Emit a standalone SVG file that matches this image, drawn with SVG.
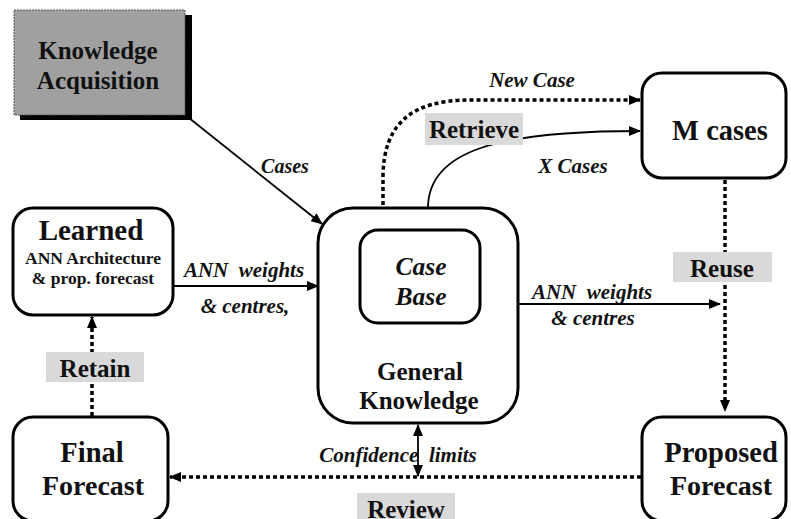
<svg xmlns="http://www.w3.org/2000/svg" width="791" height="519" viewBox="0 0 791 519">
<style>
.box{fill:#fff;stroke:#000;stroke-width:3}
.b{font-family:"Liberation Serif",serif;font-weight:bold;fill:#111;text-anchor:middle}
.bi{font-family:"Liberation Serif",serif;font-weight:bold;font-style:italic;fill:#111;text-anchor:middle;white-space:pre}
.solid{fill:none;stroke:#000;stroke-width:1.8}
.dot{fill:none;stroke:#000;stroke-width:3.5;stroke-dasharray:4 3}
.lab{fill:#d9d9d9}
</style>
<defs>
<marker id="ah" markerUnits="userSpaceOnUse" markerWidth="12" markerHeight="10" refX="11" refY="5" orient="auto-start-reverse">
<path d="M0,0 L12,5 L0,10 z" fill="#000"/>
</marker>
</defs>
<rect width="791" height="519" fill="#fff"/>

<g id="connectors">
<line class="solid" x1="174" y1="106" x2="322" y2="224" marker-end="url(#ah)"/>
<line class="solid" x1="174" y1="286" x2="318" y2="286" marker-end="url(#ah)"/>
<line class="solid" x1="519" y1="304" x2="720" y2="304" marker-end="url(#ah)"/>
<path class="dot" d="M383,226 L383,178 C383,125 410,100 470,100 L640,100" marker-end="url(#ah)"/>
<path class="solid" d="M428,208 C428,150 500,131 640,131" marker-end="url(#ah)"/>
<line class="dot" x1="725" y1="180" x2="725" y2="411" marker-end="url(#ah)"/>
<line class="dot" x1="641" y1="477" x2="170" y2="477" marker-end="url(#ah)"/>
<line class="dot" x1="92" y1="416" x2="92" y2="317" marker-end="url(#ah)"/>
<line class="solid" x1="418" y1="425" x2="418" y2="476" marker-start="url(#ah)" marker-end="url(#ah)"/>
</g>

<g id="labels">
<text class="bi" x="285" y="173" font-size="20">Cases</text>
<text class="bi" x="532" y="87" font-size="21">New Case</text>
<rect class="lab" x="425" y="113" width="98" height="32"/>
<text class="b" x="474" y="138" font-size="25">Retrieve</text>
<text class="bi" x="573" y="173" font-size="21">X Cases</text>
<text class="bi" x="244" y="277" font-size="21">ANN  weights</text>
<text class="bi" x="245" y="313" font-size="21">&amp; centres,</text>
<text class="bi" x="592" y="299" font-size="21">ANN  weights</text>
<text class="bi" x="593" y="325" font-size="21">&amp; centres</text>
<rect class="lab" x="673" y="252" width="99" height="30"/>
<text class="b" x="722" y="277" font-size="25">Reuse</text>
<rect class="lab" x="46" y="352" width="98" height="30"/>
<text class="b" x="95" y="377" font-size="25">Retain</text>
<text class="bi" x="398" y="462" font-size="21">Confidence  limits</text>
<rect class="lab" x="357" y="493" width="98" height="30"/>
<text class="b" x="406" y="518" font-size="25">Review</text>
</g>

<g id="knowledge-acquisition">
<rect x="20" y="15" width="172" height="105" fill="#000"/>
<rect x="14" y="10" width="171" height="105" fill="#a0a0a0" stroke="#555" stroke-width="1" stroke-dasharray="2 1"/>
<text class="b" x="98" y="59" font-size="25">Knowledge</text>
<text class="b" x="98" y="89" font-size="25">Acquisition</text>
</g>

<g id="learned">
<rect class="box" x="13" y="208" width="160" height="107" rx="20"/>
<text class="b" x="91" y="240" font-size="29">Learned</text>
<text class="b" x="93" y="264" font-size="17.5">ANN Architecture</text>
<text class="b" x="93" y="284" font-size="17.5">&amp; prop. forecast</text>
</g>

<g id="general-knowledge">
<rect class="box" x="318" y="208" width="200" height="215" rx="35"/>
<text class="b" x="420" y="380" font-size="25">General</text>
<text class="b" x="419" y="409" font-size="25">Knowledge</text>
</g>

<g id="case-base">
<rect class="box" x="360" y="230" width="120" height="93" rx="18"/>
<text class="bi" x="421" y="275" font-size="25.5">Case</text>
<text class="bi" x="421" y="305" font-size="25.5">Base</text>
</g>

<g id="m-cases">
<rect class="box" x="642" y="73" width="144" height="105" rx="20"/>
<text class="b" x="720" y="140" font-size="28.5">M cases</text>
</g>

<g id="final-forecast">
<rect class="box" x="13" y="417" width="155" height="104" rx="20"/>
<text class="b" x="92" y="462" font-size="28.5">Final</text>
<text class="b" x="93" y="495" font-size="28">Forecast</text>
</g>

<g id="proposed-forecast">
<rect class="box" x="642" y="417" width="144" height="104" rx="20"/>
<text class="b" x="721" y="462" font-size="28.5">Proposed</text>
<text class="b" x="721" y="495" font-size="28">Forecast</text>
</g>
</svg>
